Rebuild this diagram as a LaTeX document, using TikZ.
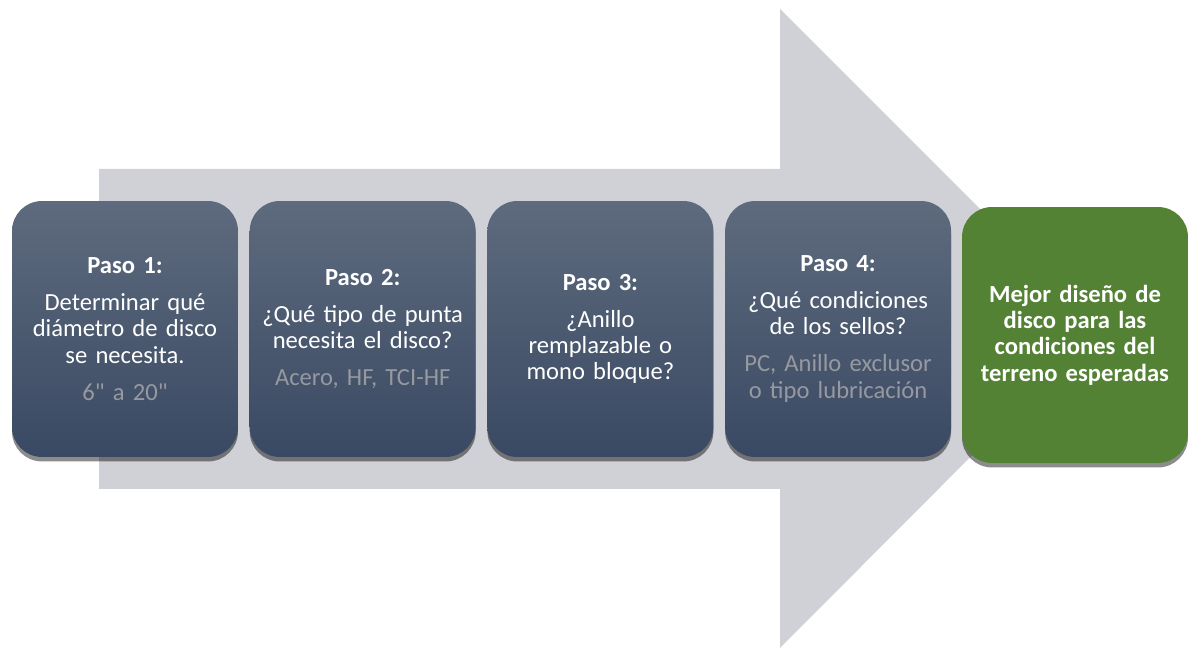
\documentclass[tikz,border=0pt]{standalone}
\usepackage{fontspec}
\setmainfont{Carlito}
\newfontfamily\carlitollano{Carlito}[WordSpace=0.75]
\usetikzlibrary{shadows,positioning}

\definecolor{flechagris}{RGB}{208,209,214}
\definecolor{cajaarriba}{RGB}{94,107,126}
\definecolor{cajaabajo}{RGB}{58,73,99}
\definecolor{notagris}{RGB}{150,153,160}
\definecolor{verdefinal}{RGB}{84,130,53}

\tikzset{
  caja/.style={rounded corners=0.6cm,minimum width=4.52cm,minimum height=5.12cm,
    text width=4.4cm,align=center,text=white,inner sep=0pt,
    font=\carlitollano\fontsize{14}{15}\selectfont,
    drop shadow={shadow xshift=0pt,shadow yshift=-0.09cm,opacity=0.45,fill=black}},
  paso/.style={caja,top color=cajaarriba,bottom color=cajaabajo},
  final/.style={caja,fill=verdefinal,font=\carlitollano\fontsize{14}{15}\selectfont\bfseries}
}

\begin{document}
\begin{tikzpicture}[x=0.02cm,y=-0.02cm]
  \useasboundingbox (0,0) rectangle (1188,648);
  \fill[flechagris] (99,169) -- (780,169) -- (780,9) -- (1099,328) -- (780,648) -- (780,489) -- (99,489) -- cycle;

  \foreach \txt [count=\n] in {
      {Determinar qué\\diámetro de disco\\se necesita.\\[6pt]{\color{notagris}6" a 20"}},
      {¿Qué tipo de punta\\necesita el disco?\\[6pt]{\color{notagris}Acero, HF, TCI-HF}},
      {¿Anillo\\remplazable o\\mono bloque?},
      {¿Qué condiciones\\de los sellos?\\[6pt]{\color{notagris}PC, Anillo exclusor\\o tipo lubricación}}}
    \node[paso] (N\n) at ({125+(\n-1)*237.7},329) {\textbf{Paso \n:}\\[6pt]\txt};

  \node[final] (F) at (1075,335) {Mejor diseño de\\disco para las\\condiciones del\\terreno esperadas};
\end{tikzpicture}
\end{document}
